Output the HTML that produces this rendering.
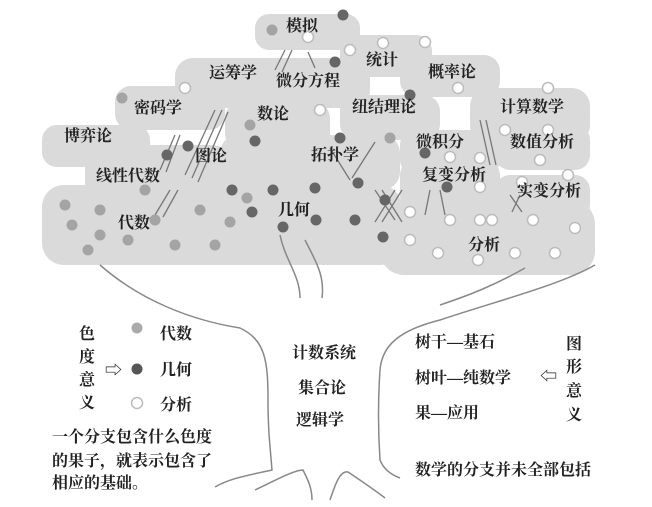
<!DOCTYPE html>
<html><head><meta charset="utf-8"><style>
html,body{margin:0;padding:0;background:#fff;width:652px;height:507px;overflow:hidden}
svg{display:block}
text{font-family:"Liberation Serif","Noto Serif CJK SC",serif;font-size:16px;font-weight:bold;fill:#222}
</style></head><body>
<svg width="652" height="507" viewBox="0 0 652 507">
<g fill="#dadada">
<rect x="255" y="14" width="105" height="36" rx="14"/>
<rect x="340" y="35" width="92" height="42" rx="16"/>
<rect x="400" y="55" width="100" height="42" rx="16"/>
<rect x="175" y="58" width="195" height="50" rx="18"/>
<rect x="115" y="86" width="110" height="44" rx="16"/>
<rect x="225" y="102" width="105" height="48" rx="16"/>
<rect x="340" y="95" width="100" height="45" rx="16"/>
<rect x="470" y="88" width="120" height="55" rx="18"/>
<rect x="42" y="125" width="108" height="42" rx="15"/>
<rect x="85" y="145" width="145" height="55" rx="18"/>
<rect x="220" y="135" width="180" height="55" rx="18"/>
<rect x="400" y="130" width="100" height="45" rx="15"/>
<rect x="495" y="125" width="95" height="45" rx="15"/>
<rect x="400" y="160" width="100" height="50" rx="15"/>
<rect x="495" y="175" width="95" height="45" rx="15"/>
<rect x="42" y="185" width="360" height="80" rx="22"/>
<rect x="380" y="200" width="215" height="75" rx="24"/>
</g>
<g stroke="#777" stroke-width="1.3" fill="none">
<path d="M285 50 L275 70 M292 50 L282 72 M308 52 L315 68"/>
<path d="M215 110 L185 175 M222 110 L192 178 M228 112 L198 182"/>
<path d="M175 135 L160 170 M180 135 L166 172"/>
<path d="M330 148 L350 180 M375 142 L352 178"/>
<path d="M375 190 L395 220 M382 190 L402 222 M395 190 L375 222 M402 190 L382 222"/>
<path d="M480 120 L490 165 M486 120 L496 165"/>
<path d="M510 195 L522 212 M520 195 L512 212"/>
<path d="M170 190 L155 215 M178 190 L163 217"/>
<path d="M430 190 L425 215 M440 190 L445 215"/>
</g>
<g fill="#a4a4a4">
<circle cx="65" cy="205" r="5.5"/><circle cx="100" cy="210" r="5.5"/><circle cx="72" cy="225" r="5.5"/><circle cx="100" cy="235" r="5.5"/><circle cx="155" cy="220" r="5.5"/><circle cx="200" cy="210" r="5.5"/><circle cx="230" cy="222" r="5.5"/><circle cx="88" cy="250" r="5.5"/><circle cx="128" cy="240" r="5.5"/><circle cx="175" cy="245" r="5.5"/><circle cx="215" cy="245" r="5.5"/><circle cx="272" cy="30" r="5.5"/><circle cx="250" cy="125" r="5.5"/><circle cx="122" cy="98" r="5.5"/><circle cx="145" cy="190" r="5.5"/><circle cx="247" cy="198" r="5.5"/><circle cx="390" cy="138" r="5.5"/></g>
<g fill="#666">
<circle cx="343" cy="15" r="5.5"/><circle cx="335" cy="62" r="5.5"/><circle cx="188" cy="146" r="5.5"/><circle cx="167" cy="155" r="5.5"/><circle cx="255" cy="141" r="5.5"/><circle cx="340" cy="138" r="5.5"/><circle cx="232" cy="190" r="5.5"/><circle cx="273" cy="190" r="5.5"/><circle cx="315" cy="188" r="5.5"/><circle cx="358" cy="183" r="5.5"/><circle cx="252" cy="212" r="5.5"/><circle cx="316" cy="220" r="5.5"/><circle cx="283" cy="227" r="5.5"/><circle cx="355" cy="220" r="5.5"/><circle cx="385" cy="200" r="5.5"/><circle cx="383" cy="237" r="5.5"/><circle cx="425" cy="153" r="5.5"/><circle cx="447" cy="187" r="5.5"/><circle cx="410" cy="95" r="5.5"/></g>
<g fill="#fff" stroke="#bbb" stroke-width="1.5">
<circle cx="308" cy="37" r="5.5"/><circle cx="383" cy="43" r="5.5"/><circle cx="425" cy="42" r="5.5"/><circle cx="350" cy="50" r="5.5"/><circle cx="185" cy="88" r="5.5"/><circle cx="320" cy="110" r="5.5"/><circle cx="458" cy="88" r="5.5"/><circle cx="548" cy="88" r="5.5"/><circle cx="505" cy="130" r="5.5"/><circle cx="548" cy="130" r="5.5"/><circle cx="450" cy="157" r="5.5"/><circle cx="480" cy="158" r="5.5"/><circle cx="540" cy="160" r="5.5"/><circle cx="522" cy="182" r="5.5"/><circle cx="480" cy="187" r="5.5"/><circle cx="568" cy="175" r="5.5"/><circle cx="410" cy="212" r="5.5"/><circle cx="450" cy="220" r="5.5"/><circle cx="492" cy="220" r="5.5"/><circle cx="533" cy="220" r="5.5"/><circle cx="575" cy="228" r="5.5"/><circle cx="410" cy="240" r="5.5"/><circle cx="438" cy="253" r="5.5"/><circle cx="478" cy="260" r="5.5"/><circle cx="515" cy="253" r="5.5"/><circle cx="555" cy="253" r="5.5"/><circle cx="480" cy="220" r="5.5"/></g>
<g stroke="#888" stroke-width="1.5" fill="none">
<path d="M100 265 C140 300,190 320,240 328 C265 340,268 360,268 400 C268 430,270 445,272 470 C250 475,230 478,215 487"/>
<path d="M595 265 C560 285,500 300,440 320 C400 330,382 345,380 370 C378 400,378 430,380 460 C384 470,392 475,400 478"/>
<path d="M280 235 C285 260,300 275,300 298"/>
<path d="M305 240 C315 260,325 275,322 298"/>
<path d="M525 268 C495 285,470 295,440 305"/>
<path d="M255 490 C280 478,295 470,303 470 C308 480,312 488,312 500"/>
<path d="M330 500 C335 485,340 470,348 472 C360 480,372 488,385 498"/>
</g>
<text x="286" y="31">模拟</text>
<text x="366" y="65">统计</text>
<text x="428" y="77">概率论</text>
<text x="209" y="78">运筹学</text>
<text x="276" y="86">微分方程</text>
<text x="134" y="113">密码学</text>
<text x="257" y="119">数论</text>
<text x="352" y="112">纽结理论</text>
<text x="500" y="112">计算数学</text>
<text x="64" y="141">博弈论</text>
<text x="195" y="161">图论</text>
<text x="311" y="160">拓扑学</text>
<text x="416" y="147">微积分</text>
<text x="510" y="147">数值分析</text>
<text x="96" y="181">线性代数</text>
<text x="422" y="180">复变分析</text>
<text x="517" y="196">实变分析</text>
<text x="118" y="228">代数</text>
<text x="278" y="215">几何</text>
<text x="468" y="250">分析</text>
<text x="79" y="339">色</text><text x="79" y="362">度</text><text x="79" y="385">意</text><text x="79" y="408">义</text>
<text x="105" y="376" style="font-size:17px">⇨</text>
<circle cx="137" cy="328" r="5.5" fill="#aaa"/>
<circle cx="137" cy="369" r="5.5" fill="#555"/>
<circle cx="137" cy="403" r="5.5" fill="#fff" stroke="#bbb" stroke-width="1.5"/>
<text x="160" y="339">代数</text><text x="160" y="375">几何</text><text x="160" y="410">分析</text>
<text x="52" y="442">一个分支包含什么色度</text>
<text x="52" y="466">的果子，就表示包含了</text>
<text x="52" y="488">相应的基础。</text>
<text x="292" y="358">计数系统</text>
<text x="298" y="393">集合论</text>
<text x="296" y="425">逻辑学</text>
<text x="415" y="347">树干—基石</text>
<text x="415" y="383">树叶—纯数学</text>
<text x="415" y="418">果—应用</text>
<text x="540" y="382" style="font-size:17px">⇦</text>
<text x="566" y="349">图</text><text x="566" y="372">形</text><text x="566" y="396">意</text><text x="566" y="420">义</text>
<text x="415" y="475">数学的分支并未全部包括</text>
</svg>
</body></html>
